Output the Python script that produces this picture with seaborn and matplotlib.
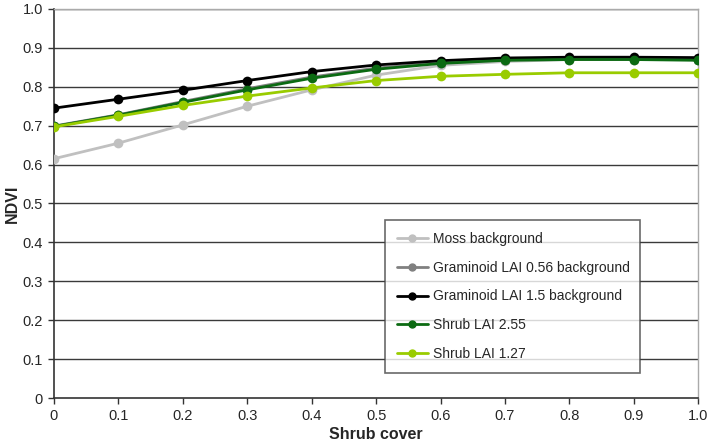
import numpy as np
import pandas as pd
import matplotlib
matplotlib.use('Agg')
import matplotlib.pyplot as plt
import seaborn as sns

# Shrub cover fractions
shrub_cover = [0.0, 0.1, 0.2, 0.3, 0.4, 0.5, 0.6, 0.7, 0.8, 0.9, 1.0]

# NDVI values
moss = [0.615, 0.655, 0.702, 0.750, 0.792, 0.830, 0.855, 0.865, 0.870, 0.870, 0.870]
graminoid_056 = [0.699, 0.728, 0.762, 0.795, 0.825, 0.848, 0.862, 0.870, 0.872, 0.872, 0.870]
graminoid_15 = [0.745, 0.768, 0.791, 0.816, 0.839, 0.856, 0.867, 0.874, 0.876, 0.876, 0.875]
shrub_255 = [0.698, 0.727, 0.760, 0.792, 0.822, 0.845, 0.860, 0.868, 0.870, 0.870, 0.868]
shrub_127 = [0.697, 0.724, 0.752, 0.776, 0.797, 0.816, 0.827, 0.832, 0.836, 0.836, 0.836]

series_names = ['Moss background', 'Graminoid LAI 0.56 background',
                'Graminoid LAI 1.5 background', 'Shrub LAI 2.55', 'Shrub LAI 1.27']
series_values = [moss, graminoid_056, graminoid_15, shrub_255, shrub_127]
colors = ['#c0c0c0', '#808080', '#000000', '#0b6a12', '#99cc00']

# Long-form table for seaborn
df = pd.concat([pd.DataFrame({'cover': shrub_cover, 'ndvi': v, 'series': n})
                for n, v in zip(series_names, series_values)], ignore_index=True)

sns.set_style('white')
plt.rcParams['font.family'] = ['Liberation Sans', 'DejaVu Sans']

fig = plt.figure(figsize=(7.09, 4.46), dpi=100)
ax = fig.add_axes([0.076, 0.1076, 0.909, 0.8723])

# grid lines
for yv in np.arange(0.1, 1.01, 0.1):
    ax.axhline(yv, color='#3a3a3a', lw=1.0, zorder=0)

sns.lineplot(data=df, x='cover', y='ndvi', hue='series', hue_order=series_names,
             palette=colors, marker='o', markersize=7, markeredgewidth=0,
             linewidth=2, ax=ax, legend=False, zorder=3)

ticks = np.round(np.arange(0, 1.01, 0.1), 1)
labels = ['0'] + [f'{v:.1f}' for v in ticks[1:]]
ax.set_xlim(0, 1.0)
ax.set_ylim(0, 1.0)
ax.set_xticks(ticks)
ax.set_yticks(ticks)
ax.set_xticklabels(labels)
ax.set_yticklabels(labels)
ax.tick_params(axis='both', direction='out', length=4, width=1, color='#333333',
               labelsize=10.5, pad=4, bottom=True, left=True)

for side in ['left', 'bottom']:
    ax.spines[side].set_color('#333333')
    ax.spines[side].set_linewidth(1.2)
for side in ['top', 'right']:
    ax.spines[side].set_color('#aaaaaa')
    ax.spines[side].set_linewidth(1.0)

ax.set_xlabel('Shrub cover', fontsize=11.5, fontweight='bold', labelpad=3)
ax.set_ylabel('NDVI', fontsize=11.5, fontweight='bold', labelpad=2)

handles = [plt.Line2D([0], [0], color=c, lw=2, marker='o', markersize=5)
           for c in colors]
leg = ax.legend(handles, series_names, loc='lower left',
                bbox_to_anchor=(0.513, 0.064, 0.397, 0.40), mode='expand',
                fontsize=10, frameon=True, fancybox=False, handlelength=2.2,
                handletextpad=0.4, labelspacing=1.05, borderpad=0.9,
                borderaxespad=0)
leg.get_frame().set_edgecolor('#444444')
leg.get_frame().set_linewidth(1.2)
leg.set_zorder(5)

fig.savefig('out.png', dpi=100)
